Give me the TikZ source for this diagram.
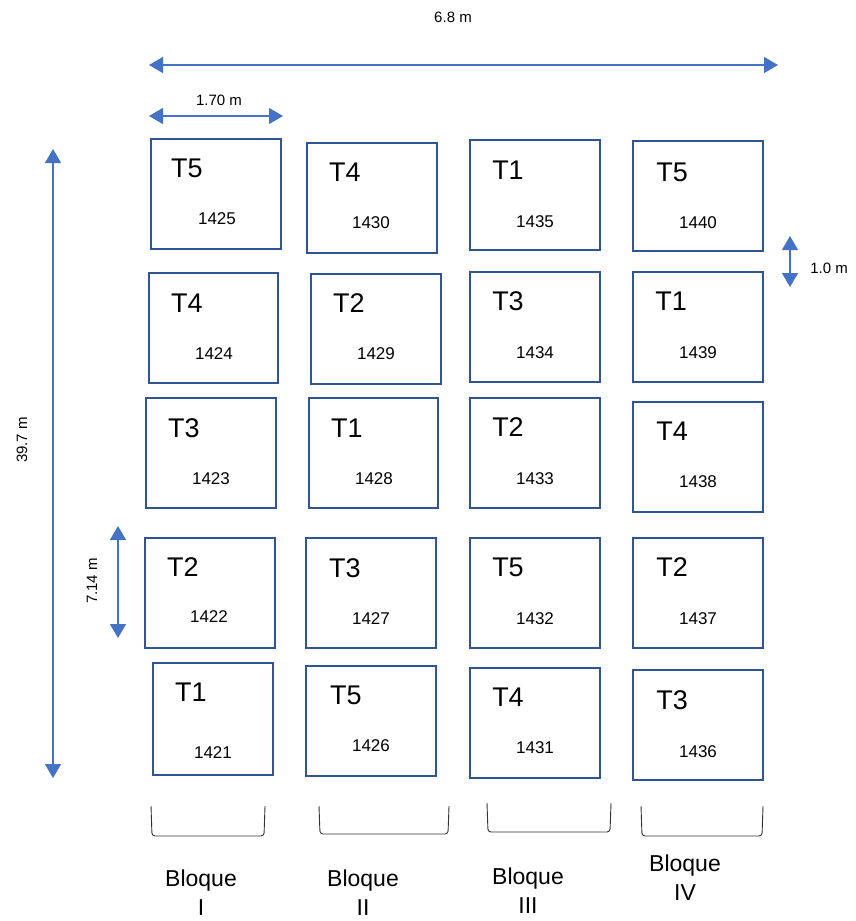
\documentclass[tikz,border=0pt]{standalone}
\usepackage{fontspec}
\setmainfont{Liberation Sans}
\usetikzlibrary{arrows.meta}
\definecolor{plotblue}{RGB}{47,85,151}
\definecolor{dimblue}{RGB}{68,114,196}

\begin{document}
\begin{tikzpicture}[x=1pt,y=-1pt,
  plot/.style={draw=plotblue,line width=2.3pt,minimum width=130pt,minimum height=110pt,inner sep=0pt},
  trt/.style={font=\fontsize{27}{27}\selectfont},
  num/.style={font=\fontsize{17}{17}\selectfont},
  dim/.style={draw=dimblue,line width=1.4pt,{Triangle[width=16pt,length=14pt]}-{Triangle[width=16pt,length=14pt]}},
  dimlab/.style={font=\fontsize{15}{15}\selectfont},
  brk/.style={draw=black!80,line width=0.9pt,rounded corners=3pt},
  blq/.style={font=\fontsize{23}{23}\selectfont,align=center}]
\useasboundingbox (0,0) rectangle (856,921);
% bloque I
\node[plot,minimum width=130pt] (p1425) at (216,194) {};
\node[trt] at (187,168) {T5};
\node[num] at (217,219) {1425};
\node[plot,minimum width=129pt] (p1424) at (213.5,328) {};
\node[trt] at (187,303) {T4};
\node[num] at (214,354) {1424};
\node[plot] (p1423) at (211,453) {};
\node[trt] at (184,428) {T3};
\node[num] at (211,479) {1423};
\node[plot] (p1422) at (210,593) {};
\node[trt] at (183,567) {T2};
\node[num] at (209,617) {1422};
\node[plot,minimum width=120pt,minimum height=112pt] (p1421) at (213,719) {};
\node[trt] at (191,692) {T1};
\node[num] at (213,753) {1421};
% bloque II
\node[plot] (p1430) at (372,198) {};
\node[trt] at (345,172) {T4};
\node[num] at (371,223) {1430};
\node[plot] (p1429) at (376,329) {};
\node[trt] at (349,303) {T2};
\node[num] at (376,354) {1429};
\node[plot,minimum width=129pt] (p1428) at (373.5,453) {};
\node[trt] at (347,428) {T1};
\node[num] at (374,479) {1428};
\node[plot] (p1427) at (371,593) {};
\node[trt] at (345,568) {T3};
\node[num] at (371,619) {1427};
\node[plot] (p1426) at (371,721) {};
\node[trt] at (346,695) {T5};
\node[num] at (371,746) {1426};
% bloque III
\node[plot] (p1435) at (535,195) {};
\node[trt] at (508,170) {T1};
\node[num] at (535,222) {1435};
\node[plot] (p1434) at (535,327) {};
\node[trt] at (508,301) {T3};
\node[num] at (535,353) {1434};
\node[plot] (p1433) at (535,453) {};
\node[trt] at (508,427) {T2};
\node[num] at (535,479) {1433};
\node[plot] (p1432) at (535,593) {};
\node[trt] at (508,567) {T5};
\node[num] at (535,619) {1432};
\node[plot] (p1431) at (535,723) {};
\node[trt] at (508,697) {T4};
\node[num] at (535,748) {1431};
% bloque IV
\node[plot] (p1440) at (698,196) {};
\node[trt] at (672,172) {T5};
\node[num] at (698,223) {1440};
\node[plot] (p1439) at (698,327) {};
\node[trt] at (671,301) {T1};
\node[num] at (698,353) {1439};
\node[plot] (p1438) at (698,457) {};
\node[trt] at (672,431) {T4};
\node[num] at (698,482) {1438};
\node[plot] (p1437) at (698,593) {};
\node[trt] at (672,567) {T2};
\node[num] at (698,619) {1437};
\node[plot] (p1436) at (698,725) {};
\node[trt] at (672,700) {T3};
\node[num] at (698,752) {1436};
% cotas
\coordinate (w0) at (149,65);
\coordinate (w1) at (778,65);
\draw[dim] (w0) -- (w1);
\node[dimlab] (lw) at (453,17) {6.8 m};
\coordinate (a0) at (149,116);
\coordinate (a1) at (283,116);
\draw[dim] (a0) -- (a1);
\node[dimlab] (la) at (219,100) {1.70 m};
\coordinate (h0) at (53,149);
\coordinate (h1) at (53,778);
\draw[dim,line width=1.1pt] (h0) -- (h1);
\node[dimlab,rotate=90] (lh) at (22,440) {39.7 m};
\coordinate (b0) at (118,526);
\coordinate (b1) at (118,638);
\draw[dim] (b0) -- (b1);
\node[dimlab,rotate=90] (lb) at (92,581) {7.14 m};
\coordinate (s0) at (790,236);
\coordinate (s1) at (790,287);
\draw[dim] (s0) -- (s1);
\node[dimlab] (ls) at (829,268) {1.0 m};
% bloques
\draw[brk] (151,806) -- (152,836) -- (264,836) -- (265,806);
\node[blq] (bq1) at (201,893) {Bloque\\[6pt]I};
\draw[brk] (319,806) -- (320,834) -- (448,834) -- (449,806);
\node[blq] (bq2) at (363,893) {Bloque\\[6pt]II};
\draw[brk] (487,803) -- (488,832) -- (610,832) -- (611,803);
\node[blq] (bq3) at (528,891) {Bloque\\[6pt]III};
\draw[brk] (641,806) -- (642,836) -- (762,836) -- (763,806);
\node[blq] (bq4) at (685,878) {Bloque\\[6pt]IV};
\end{tikzpicture}
\end{document}
